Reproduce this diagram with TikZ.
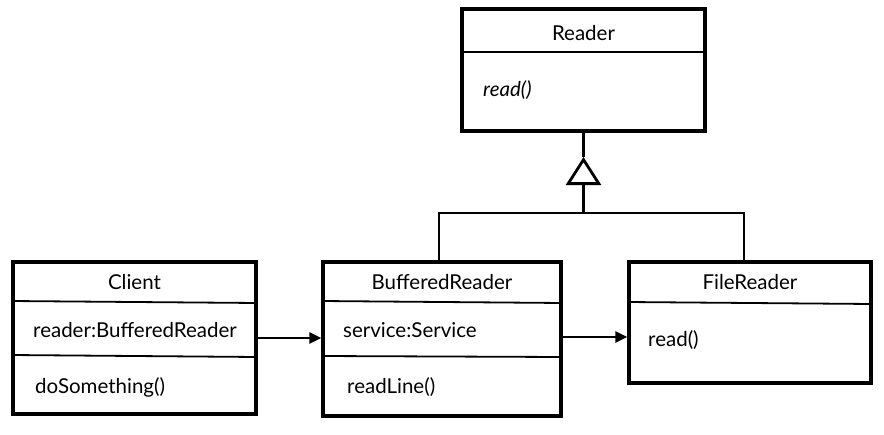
\documentclass[tikz,border=0pt]{standalone}
\usepackage{fontspec}
\setmainfont{Lato}
\usetikzlibrary{arrows.meta}
\begin{document}
\begin{tikzpicture}[x=1pt,y=-1pt,
  box/.style={draw, line width=3.2pt, inner sep=0pt, rectangle},
  divider/.style={line width=1.8pt},
  lbl/.style={inner sep=0pt, font=\fontsize{20.5}{24}\selectfont},
  conn/.style={line width=2pt},
  assoc/.style={line width=2.5pt, -{Triangle[length=12pt,width=11pt]}},
  inherit/.style={line width=2.8pt, -{Triangle[open,length=28pt,width=35pt]}}]
\useasboundingbox (0,0) rectangle (884,434);
% boxes
\node[box, minimum width=243pt, minimum height=122pt] (reader) at (583.5,70) {};
\node[box, minimum width=243pt, minimum height=152pt] (client) at (134.5,338) {};
\node[box, minimum width=238pt, minimum height=154pt] (buff) at (442,339) {};
\node[box, minimum width=242pt, minimum height=121pt] (file) at (750,322.5) {};
% dividers
\draw[divider] (reader.west |- 0,52) -- (reader.east |- 0,52);
\draw[divider] (client.west |- 0,301) -- (client.east |- 0,303);
\draw[divider] (client.west |- 0,355) -- (client.east |- 0,357);
\draw[divider] (buff.west |- 0,301) -- (buff.east |- 0,303);
\draw[divider] (buff.west |- 0,356) -- (buff.east |- 0,357);
\draw[divider] (file.west |- 0,302) -- (file.east |- 0,304);
% texts
\node[lbl] (tReader) at (583.5,33) {Reader};
\node[lbl, anchor=west] (tRead) at (483,90) {\itshape read()};
\node[lbl] (tClient) at (134.5,282) {Client};
\node[lbl, anchor=west] (tCattr) at (33,330) {reader:BufferedReader};
\node[lbl, anchor=west] (tCop) at (35,387) {doSomething()};
\node[lbl] (tBuff) at (442,282) {BufferedReader};
\node[lbl, anchor=west] (tBattr) at (343,330) {service:Service};
\node[lbl, anchor=west] (tBop) at (347,387) {readLine()};
\node[lbl] (tFile) at (750,282) {FileReader};
\node[lbl, anchor=west] (tFop) at (648,340) {read()};
% inheritance
\coordinate (junction) at (583.5,213);
\coordinate (apex) at (583.5,157);
\draw[inherit] (junction) -- (apex);
\draw[line width=3pt] (apex) -- (reader.south);
\draw[conn] ([xshift=-3pt]buff.north) |- (junction) -| ([xshift=-6pt]file.north);
% associations
\draw[assoc] (client.east) -- (client.east -| buff.west);
\draw[assoc] (buff.east |- 0,337) -- (file.west |- 0,337);
\end{tikzpicture}
\end{document}
